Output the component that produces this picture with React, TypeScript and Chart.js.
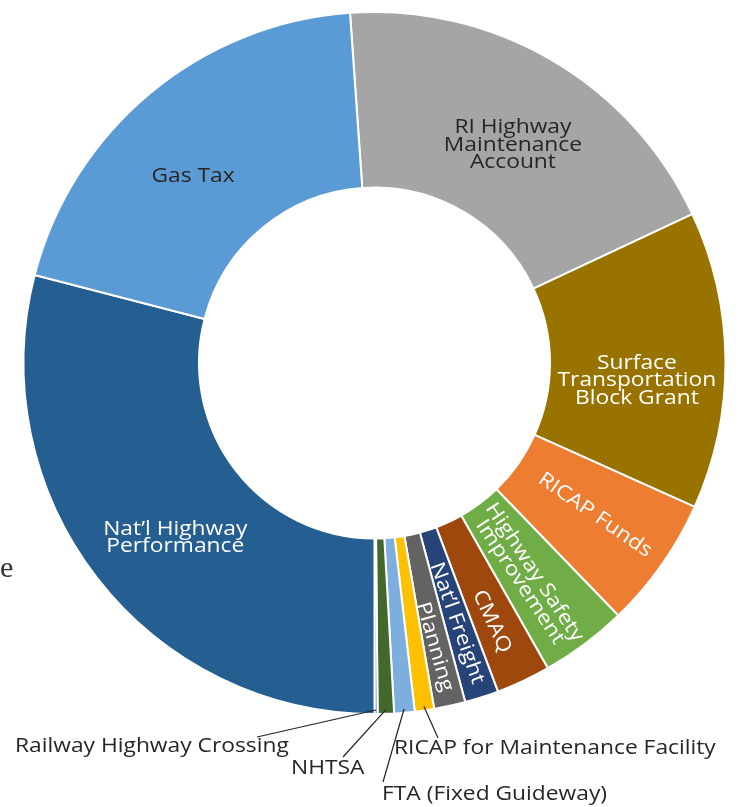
import React, { useEffect, useRef } from "react";
import { Chart, registerables } from "chart.js";

Chart.register(...registerables);

// ---- data ----
const categories = [
  "RI Highway Maintenance Account",
  "Surface Transportation Block Grant",
  "RICAP Funds",
  "Highway Safety Improvement",
  "CMAQ",
  "Nat'l Freight",
  "Planning",
  "RICAP for Maintenance Facility",
  "FTA (Fixed Guideway)",
  "NHTSA",
  "Railway Highway Crossing",
  "Nat'l Highway Performance",
  "Gas Tax",
];
// share of total funding, percent
const shares = [19.14, 13.69, 6.06, 4.0, 2.5, 1.56, 1.44, 0.89, 0.94, 0.75, 0.14, 29.03, 19.86];
const colors = [
  "#a5a5a5",
  "#987300",
  "#ed7d31",
  "#70ad47",
  "#9e480e",
  "#264478",
  "#636363",
  "#ffc000",
  "#7cafdd",
  "#43682b",
  "#4472c4",
  "#255e91",
  "#5b9bd5",
];

// inside labels: index, lines, colour, radius (px), angle nudge (deg), radial text, rotation nudge
const insideLabels = [
  { i: 0, lines: ["RI Highway", "Maintenance", "Account"], color: "#262626", r: 258, dA: 2, radial: false, dR: 0 },
  { i: 1, lines: ["Surface", "Transportation", "Block Grant"], color: "#ffffff", r: 263, dA: 4.3, radial: false, dR: 0 },
  { i: 2, lines: ["RICAP Funds"], color: "#ffffff", r: 268, dA: -0.5, radial: true, dR: 0 },
  { i: 3, lines: ["Highway Safety", "Improvement"], color: "#ffffff", r: 263, dA: 1.3, radial: true, dR: 2 },
  { i: 4, lines: ["CMAQ"], color: "#ffffff", r: 284, dA: 0.7, radial: true, dR: 0 },
  { i: 5, lines: ["Nat\u2019l Freight"], color: "#ffffff", r: 273, dA: 0.2, radial: true, dR: -2 },
  { i: 6, lines: ["Planning"], color: "#ffffff", r: 290, dA: 0.4, radial: true, dR: -4 },
  { i: 11, lines: ["Nat\u2019l Highway", "Performance"], color: "#ffffff", r: 265, dA: -3.5, radial: false, dR: 0 },
  { i: 12, lines: ["Gas Tax"], color: "#262626", r: 260, dA: -4.5, radial: false, dR: 0 },
];

// outside labels with leader lines: index, text, text left x, text middle y, leader end
const outsideLabels = [
  { i: 10, text: "Railway Highway Crossing", tx: 15, ty: 746, ex: 257, ey: 737 },
  { i: 9, text: "NHTSA", tx: 291, ty: 768, ex: 343, ey: 757 },
  { i: 7, text: "RICAP for Maintenance Facility", tx: 394, ty: 748, ex: 438, ey: 738 },
  { i: 8, text: "FTA (Fixed Guideway)", tx: 382, ty: 794, ex: 383, ey: 782 },
];

const FONT = '"Open Sans", "Noto Sans", sans-serif';
const FS = 20;
const SX = 1.14;
const LH = 17.5;

function drawLines(ctx: CanvasRenderingContext2D, lines: string[], x: number, y: number, rot: number, color: string, align: CanvasTextAlign) {
  ctx.save();
  ctx.translate(x, y);
  ctx.rotate(rot);
  ctx.scale(SX, 1);
  ctx.font = `${FS}px ${FONT}`;
  ctx.fillStyle = color;
  ctx.textAlign = align;
  ctx.textBaseline = "middle";
  const n = lines.length;
  lines.forEach((t, k) => {
    ctx.fillText(t, 0, (k - (n - 1) / 2) * LH);
  });
  ctx.restore();
}

const labelPlugin = {
  id: "sliceLabels",
  afterDatasetsDraw(chart: any) {
    const ctx: CanvasRenderingContext2D = chart.ctx;
    const meta = chart.getDatasetMeta(0);
    insideLabels.forEach((l) => {
      const arc = meta.data[l.i];
      if (!arc) return;
      const p = arc.getProps(["x", "y", "startAngle", "endAngle"], true);
      const mid = (p.startAngle + p.endAngle) / 2 + (l.dA * Math.PI) / 180;
      const x = p.x + l.r * Math.cos(mid);
      const y = p.y + l.r * Math.sin(mid);
      const rot = l.radial ? mid + (l.dR * Math.PI) / 180 : 0;
      drawLines(ctx, l.lines, x, y, rot, l.color, "center");
    });
    outsideLabels.forEach((l) => {
      const arc = meta.data[l.i];
      if (!arc) return;
      const p = arc.getProps(["x", "y", "startAngle", "endAngle", "outerRadius"], true);
      const mid = (p.startAngle + p.endAngle) / 2;
      const r = p.outerRadius - 4;
      const sx = p.x + r * Math.cos(mid);
      const sy = p.y + r * Math.sin(mid);
      ctx.save();
      ctx.strokeStyle = "#222222";
      ctx.lineWidth = 1.2;
      ctx.beginPath();
      ctx.moveTo(sx, sy);
      ctx.lineTo(l.ex, l.ey);
      ctx.stroke();
      ctx.restore();
      drawLines(ctx, [l.text], l.tx, l.ty, 0, "#262626", "left");
    });
    // stray fragment of surrounding page text at the left edge
    ctx.save();
    ctx.font = '30px "Liberation Serif", "DejaVu Serif", serif';
    ctx.fillStyle = "#333333";
    ctx.textAlign = "left";
    ctx.textBaseline = "alphabetic";
    ctx.fillText("e", 0, 577);
    ctx.restore();
  },
};

export default function App() {
  const ref = useRef<HTMLCanvasElement | null>(null);
  useEffect(() => {
    if (!ref.current) return;
    const chart = new Chart(ref.current, {
      type: "doughnut",
      data: {
        labels: categories,
        datasets: [
          {
            data: shares,
            backgroundColor: colors,
            borderColor: "#ffffff",
            borderWidth: 2,
          },
        ],
      },
      options: {
        responsive: false,
        maintainAspectRatio: false,
        animation: false,
        rotation: -4,
        cutout: "50%",
        layout: { padding: { left: 22, right: 17, top: 11, bottom: 92 } },
        plugins: {
          legend: { display: false },
          tooltip: { enabled: false },
        },
      },
      plugins: [labelPlugin],
    } as any);
    return () => chart.destroy();
  }, []);
  return (
    <div style={{ position: "absolute", left: 0, top: 0, width: 744, height: 807, background: "#ffffff" }}>
      <canvas ref={ref} width={744} height={807} style={{ display: "block" }} />
    </div>
  );
}
